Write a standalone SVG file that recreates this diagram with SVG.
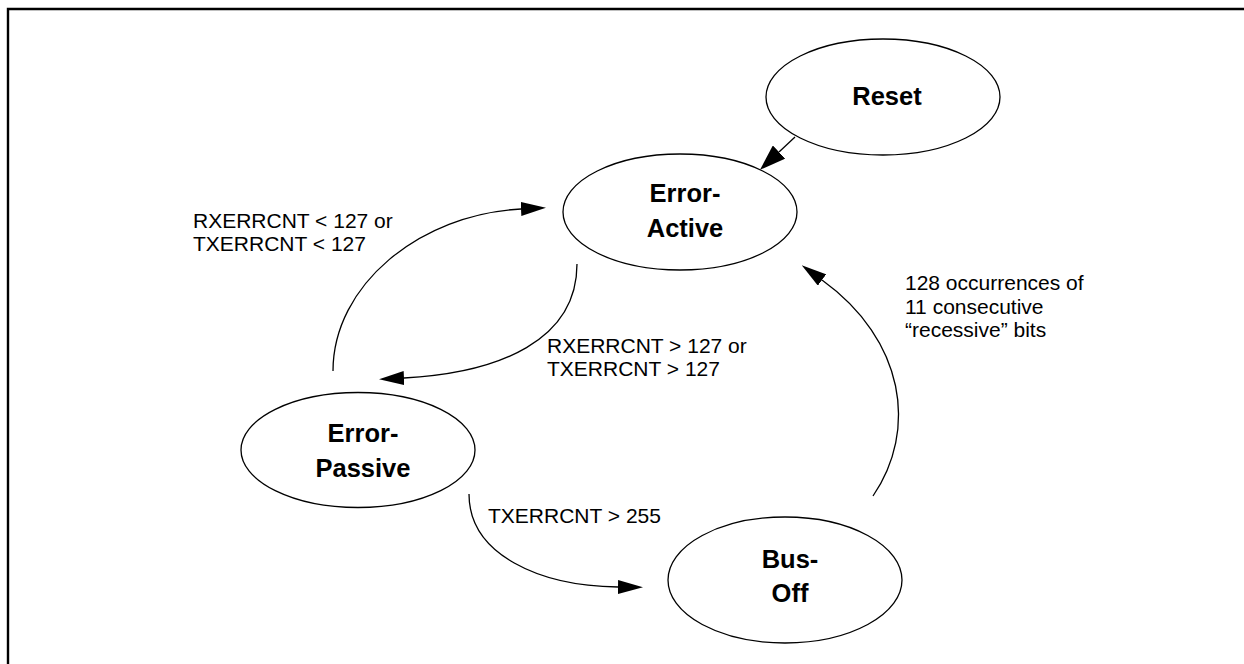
<svg xmlns="http://www.w3.org/2000/svg" width="1244" height="664" viewBox="0 0 1244 664">
<style>
.node ellipse{fill:#fff;stroke:#000;stroke-width:1.3}
.nl{font-family:"Liberation Sans",Arial,sans-serif;font-weight:bold;font-size:25.5px;text-anchor:middle;fill:#000}
.el{font-family:"Liberation Sans",Arial,sans-serif;font-size:21px;fill:#000}
.conn path{fill:none;stroke:#000;stroke-width:1.3;marker-end:url(#ah)}
.conn path.big{marker-end:url(#ahb)}
</style>
<defs>
<marker id="ah" markerUnits="userSpaceOnUse" markerWidth="25" markerHeight="14" refX="0" refY="7" orient="auto" viewBox="0 0 25 14">
<path d="M0,0 L25,7 L0,14 z" fill="#000"/>
</marker>
<marker id="ahb" markerUnits="userSpaceOnUse" markerWidth="26" markerHeight="18" refX="0" refY="9" orient="auto" viewBox="0 0 26 18">
<path d="M0,0 L26,9 L0,18 z" fill="#000"/>
</marker>
</defs>
<rect width="1244" height="664" fill="#fff"/>
<path d="M8,664 L8,9 L1244,9" fill="none" stroke="#000" stroke-width="2.4"/>
<g id="reset" class="node"><ellipse cx="883" cy="97" rx="117" ry="58"/><text class="nl" x="887" y="105">Reset</text></g>
<g id="error-active" class="node"><ellipse cx="680" cy="212" rx="117" ry="58"/><text class="nl" x="685" y="202">Error-</text><text class="nl" x="685" y="237">Active</text></g>
<g id="error-passive" class="node"><ellipse cx="358" cy="450" rx="117" ry="57.5"/><text class="nl" x="363" y="442">Error-</text><text class="nl" x="363" y="477">Passive</text></g>
<g id="bus-off" class="node"><ellipse cx="785" cy="580" rx="117" ry="63"/><text class="nl" x="790" y="568">Bus-</text><text class="nl" x="790" y="602">Off</text></g>
<g id="connectors" class="conn">
<path class="big" d="M795,137 L779,152"/>
<path d="M333,371 C333,285 420,214 521,209"/>
<path d="M577,264 C577,340 500,373 404,378"/>
<path d="M469,494 C469,555 540,586 618,587"/>
<path d="M873,496 C918,430 905,340 822,280"/>
</g>
<g id="labels">
<text class="el" x="193" y="228">RXERRCNT &lt; 127 or</text>
<text class="el" x="193" y="251">TXERRCNT &lt; 127</text>
<text class="el" x="547" y="353">RXERRCNT &gt; 127 or</text>
<text class="el" x="547" y="376">TXERRCNT &gt; 127</text>
<text class="el" x="488" y="523">TXERRCNT &gt; 255</text>
<text class="el" x="905" y="290">128 occurrences of</text>
<text class="el" x="905" y="313.5">11 consecutive</text>
<text class="el" x="905" y="337">“recessive” bits</text>
</g>
</svg>
